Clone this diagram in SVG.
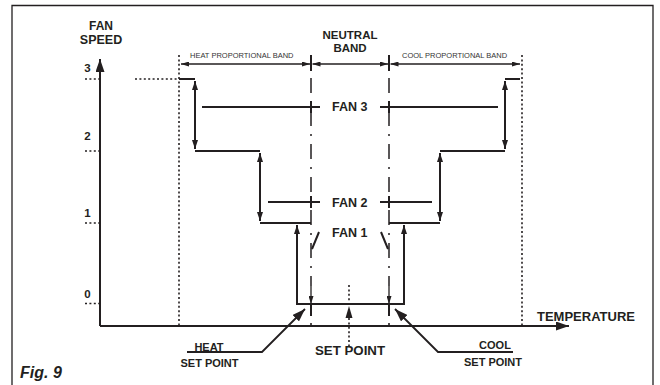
<svg xmlns="http://www.w3.org/2000/svg" width="660" height="385" viewBox="0 0 660 385">
<defs>
<style>
text{font-family:"Liberation Sans",Arial,sans-serif;font-weight:bold;fill:#231f20}
.sm{font-weight:normal;font-size:7.5px;fill:#333}
.ln{stroke:#231f20;stroke-width:2;fill:none}
.thin{stroke:#231f20;stroke-width:1.3;fill:none}
.dot{stroke:#231f20;stroke-width:1.6;fill:none;stroke-dasharray:2 2.4}
.dd{stroke:#231f20;stroke-width:1.5;fill:none;stroke-dasharray:15 8 2 8}
</style>
<marker id="ah" viewBox="0 0 9 6" refX="9" refY="3" markerWidth="9" markerHeight="6" markerUnits="userSpaceOnUse" orient="auto-start-reverse">
<path d="M0,0 L9,3 L0,6 z" fill="#231f20"/>
</marker>
<marker id="ahs" viewBox="0 0 8 5" refX="8" refY="2.5" markerWidth="8" markerHeight="5" markerUnits="userSpaceOnUse" orient="auto-start-reverse">
<path d="M0,0 L8,2.5 L0,5 z" fill="#231f20"/>
</marker>
<marker id="big" viewBox="0 0 13 9" refX="13" refY="4.5" markerWidth="13" markerHeight="9" markerUnits="userSpaceOnUse" orient="auto">
<path d="M0,0 L13,4.5 L0,9 z" fill="#231f20"/>
</marker>
</defs>
<rect width="660" height="385" fill="#fff"/>
<path d="M12,400 V5.5 H653 V400" fill="none" stroke="#231f20" stroke-width="1.3"/>

<g id="axes">
<line class="ln" x1="100" y1="326" x2="100" y2="59" marker-end="url(#big)"/>
<line class="ln" x1="100" y1="326" x2="569" y2="326" marker-end="url(#big)"/>
<text x="101" y="29.5" font-size="12" text-anchor="middle">FAN</text>
<text x="101" y="44" font-size="12.5" text-anchor="middle">SPEED</text>
<text x="537" y="320.5" font-size="13">TEMPERATURE</text>
<text x="87.5" y="71.7" font-size="11.5" text-anchor="middle">3</text>
<text x="87.5" y="140" font-size="11.5" text-anchor="middle">2</text>
<text x="87.5" y="216.7" font-size="11.5" text-anchor="middle">1</text>
<text x="87.5" y="298.3" font-size="11.5" text-anchor="middle">0</text>
<path class="dot" d="M85,79 H99 M135,79 H179 M85,151 H99 M85,223 H99 M85,303.5 H99"/>
</g>

<g id="bands">
<line class="dot" x1="179" y1="55" x2="179" y2="326"/>
<line class="dot" x1="522" y1="55" x2="522" y2="326"/>
<text class="sm" x="190" y="57.5">HEAT PROPORTIONAL BAND</text>
<text class="sm" x="402" y="57.5">COOL PROPORTIONAL BAND</text>
<text x="350" y="39.3" font-size="11.5" text-anchor="middle">NEUTRAL</text>
<text x="350" y="52.3" font-size="11.5" text-anchor="middle">BAND</text>
<line class="thin" x1="181" y1="64" x2="310" y2="64" marker-start="url(#ahs)" marker-end="url(#ahs)"/>
<line class="thin" x1="312.5" y1="64" x2="388" y2="64" marker-start="url(#ahs)" marker-end="url(#ahs)"/>
<line class="thin" x1="390.5" y1="64" x2="520" y2="64" marker-start="url(#ahs)" marker-end="url(#ahs)"/>
</g>

<g id="setpoint-lines">
<path class="ln" stroke-width="1.5" d="M311,55 V71 M389,55 V71 M311,101 V113 M389,101 V113 M311,196 V208 M389,196 V208 M311,304 V316 M389,304 V316"/>
<line class="dd" x1="311" y1="78" x2="311" y2="286"/>
<line class="dd" x1="389" y1="78" x2="389" y2="286"/>
<line class="thin" x1="311" y1="286" x2="311" y2="304" marker-end="url(#ahs)"/>
<line class="thin" x1="389" y1="286" x2="389" y2="304" marker-end="url(#ahs)"/>
<path class="dot" d="M311,323 V327 M389,323 V327"/>
<path class="dot" d="M349,285 V301 M349,318 V346"/>
<path d="M349,306 L345.5,318 L352.5,318 z" fill="#231f20"/>
</g>

<g id="heat-steps">
<path class="ln" d="M179,79 H195 M195,151 H260 M260,223 H311"/>
<line class="ln" x1="195" y1="81" x2="195" y2="149" marker-start="url(#ah)" marker-end="url(#ah)"/>
<line class="ln" x1="260" y1="153" x2="260" y2="221" marker-start="url(#ah)" marker-end="url(#ah)"/>
<path class="ln" d="M297,227 V304 H404 V227"/>
<line class="ln" x1="297" y1="240" x2="297" y2="225" marker-end="url(#ah)"/>
<line class="ln" x1="404" y1="240" x2="404" y2="225" marker-end="url(#ah)"/>
</g>

<g id="cool-steps">
<path class="ln" d="M520,79 H505 M505,151 H440 M440,223 H389"/>
<line class="ln" x1="505" y1="81" x2="505" y2="149" marker-start="url(#ah)" marker-end="url(#ah)"/>
<line class="ln" x1="440" y1="153" x2="440" y2="221" marker-start="url(#ah)" marker-end="url(#ah)"/>
</g>

<g id="fan3">
<path class="ln" stroke-width="1.6" d="M202,107 H320 M380,107 H498"/>
<text x="332" y="110.7" font-size="12.5">FAN 3</text>
</g>
<g id="fan2">
<path class="ln" stroke-width="1.6" d="M268,202 H320 M380,202 H432"/>
<text x="332" y="207" font-size="12.5">FAN 2</text>
</g>
<g id="fan1">
<path class="ln" stroke-width="1.6" d="M319,232 L312,249 M381,232 L388,249"/>
<text x="332" y="237" font-size="12.5">FAN 1</text>
</g>

<g id="heat-setpoint">
<polyline points="187,352 262,352 305,309" fill="none" stroke="#231f20" stroke-width="1.8" marker-end="url(#big)"/>
<text x="209" y="350.7" font-size="11" text-anchor="middle">HEAT</text>
<text x="209.5" y="367.3" font-size="11" text-anchor="middle">SET POINT</text>
</g>
<g id="center-setpoint">
<text x="350" y="354.7" font-size="13.3" text-anchor="middle">SET POINT</text>
</g>
<g id="cool-setpoint">
<polyline points="513,352 438,352 395,309" fill="none" stroke="#231f20" stroke-width="1.8" marker-end="url(#big)"/>
<text x="495" y="348.7" font-size="11" text-anchor="middle">COOL</text>
<text x="493" y="365.7" font-size="11" text-anchor="middle">SET POINT</text>
</g>

<text x="20" y="378" font-size="16" font-style="italic">Fig. 9</text>
</svg>
